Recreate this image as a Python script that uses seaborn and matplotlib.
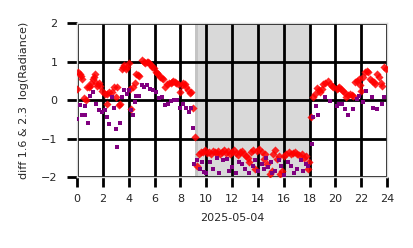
import matplotlib
matplotlib.use("Agg")
import matplotlib.pyplot as plt
import seaborn as sns
import pandas as pd

red_x = [0.0, 0.1, 0.2, 0.3, 0.4, 0.55, 0.7, 0.8, 0.9, 1.0, 1.1, 1.2, 1.3, 1.4, 1.45, 1.55, 1.7, 1.8, 1.95,
         2.15, 2.3, 2.35, 2.5, 2.7, 2.85, 3.0, 3.1, 3.25, 3.3, 3.45, 3.55, 3.65, 3.8, 3.9, 4.0, 4.1, 4.2, 4.35,
         4.5, 4.6, 4.7, 4.8, 5.05, 5.15, 5.25, 5.4, 5.5, 5.6, 5.7, 5.8, 5.95, 6.1, 6.2, 6.3, 6.45, 6.55, 6.65,
         6.8, 6.95, 7.1, 7.25, 7.35, 7.45, 7.55, 7.65, 7.85, 7.95, 8.1, 8.2, 8.35, 8.45, 8.6, 8.75, 8.85, 9.0,
         9.15, 9.3, 9.45, 9.6, 9.75, 9.9, 10.05, 10.2, 10.35, 10.5, 10.65, 10.8, 10.95, 11.1, 11.25, 11.4,
         11.55, 11.7, 11.85, 12.0, 12.15, 12.3, 12.45, 12.6, 12.75, 12.9, 13.05, 13.2, 13.35, 13.5, 13.65,
         13.8, 13.95, 14.1, 14.3, 14.45, 14.55, 14.7, 14.9, 15.1, 15.2, 15.35, 15.5, 15.6, 15.75, 15.9,
         16.05, 16.2, 16.4, 16.55, 16.7, 16.9, 17.05, 17.2, 17.4, 17.55, 17.7, 17.85, 17.95,
         18.1, 18.3, 18.4, 18.55, 18.7, 18.8, 18.95, 19.05, 19.2, 19.4, 19.55, 19.7, 19.85, 20.1, 20.2,
         20.3, 20.45, 20.6, 20.75, 20.85, 21.0, 21.1, 21.25, 21.4, 21.5, 21.65, 21.8, 21.9, 22.0, 22.15,
         22.3, 22.45, 22.55, 22.7, 22.8, 22.95, 23.1, 23.25, 23.35, 23.5, 23.6, 23.75, 23.9]
red_y = [0.28, 0.72, 0.68, 0.63, 0.55, 0.05, 0.0, 0.33, 0.35, 0.37, 0.45, 0.55, 0.6, 0.67, 0.45, 0.37, 0.45, 0.37, 0.24,
         0.15, 0.15, -0.1, 0.2, 0.2, 0.33, 0.07, 0.33, -0.13, -0.1, 0.8, 0.85, 0.9, 0.8, 0.85, 0.95, 0.28, -0.22, 0.33,
         0.45, 0.67, 0.65, 0.62, 1.05, 1.0, 0.95, 1.0, 0.98, 0.97, 0.9, 0.86, 0.82, 0.72, 0.7, 0.67, 0.6, 0.58, 0.55,
         0.33, 0.42, 0.45, 0.45, 0.48, 0.5, 0.47, 0.45, 0.42, 0.2, 0.38, 0.45, 0.42, 0.33, 0.25, 0.18, 0.2, -0.2,
         -0.97, -1.7, -1.4, -1.35, -1.35, -1.3, -1.37, -1.35, -1.4, -1.32, -1.35, -1.38, -1.33, -1.4, -1.35, -1.3,
         -1.37, -1.33, -1.4, -1.35, -1.3, -1.38, -1.42, -1.35, -1.32, -1.4, -1.45, -1.5, -1.6, -1.35, -1.3,
         -1.8, -1.33, -1.27, -1.35, -1.52, -1.4, -1.65, -1.92, -1.85, -1.4, -1.3, -1.52, -1.45, -1.92, -1.85,
         -1.45, -1.4, -1.35, -1.4, -1.38, -1.36, -1.4, -1.42, -1.4, -1.5, -1.45, -1.8, -1.6,
         -0.45, 0.07, 0.15, 0.31, 0.25, 0.2, 0.3, 0.42, 0.45, 0.5, 0.42, 0.37, 0.33, 0.29, 0.31,
         0.33, 0.3, 0.24, 0.18, 0.07, 0.12, 0.16, 0.14, 0.11, 0.46, 0.5, 0.55, 0.4, 0.24, 0.6,
         0.72, 0.76, 0.74, 0.55, 0.5, 0.46, 0.42, 0.68, 0.6, 0.45, 0.37, 0.85, 0.8]

purple_x = [0.0, 0.2, 0.4, 0.6, 0.65, 0.85, 1.0, 1.25, 1.47, 1.73, 1.9, 2.15, 2.35, 2.5, 2.7, 2.9, 3.05, 3.12,
            3.3, 3.45, 3.65, 3.85, 4.05, 4.2, 4.3, 4.5, 4.6, 4.8, 5.0, 5.2, 5.4, 5.65, 5.85, 6.15, 6.35, 6.6,
            6.8, 7.05, 7.3, 7.5, 7.75, 7.95, 8.2, 8.45, 8.65, 8.85, 8.95,
            9.05, 9.3, 9.5, 9.65, 9.8, 10.0, 10.3, 10.5, 10.8, 11.0, 11.3, 11.6, 11.8, 12.0, 12.3, 12.5, 12.8,
            13.0, 13.3, 13.6, 13.8, 14.0, 14.3, 14.5, 14.6, 14.8, 15.0, 15.1, 15.3, 15.6, 15.8, 16.0, 16.3,
            16.6, 16.8, 17.0, 17.3, 17.5, 17.7, 17.9,
            18.15, 18.3, 18.5, 18.65, 19.2, 19.6, 20.1, 20.3, 20.5, 20.75, 21.0, 21.35, 21.65, 21.8, 22.1,
            22.4, 22.8, 22.9, 23.2, 23.6, 23.75]
purple_y = [-0.5, -0.12, -0.4, -0.4, -0.15, -0.6, 0.1, 0.2, -0.1, -0.25, -0.3, -0.27, -0.43, -0.62, 0.07, -0.2, -0.75, -1.23,
            -0.6, 0.07, 0.25, 0.15, 0.25, -0.25, -0.4, -0.05, 0.1, 0.1, 0.4, 0.35, 0.4, 0.3, 0.27, 0.2, 0.05, 0.07,
            -0.12, -0.1, -0.03, 0.0, -0.01, -0.2, -0.1, -0.2, -0.3, -0.2, -0.73,
            -1.65, -1.55, -1.8, -1.6, -1.87, -1.9, -1.6, -1.8, -1.5, -1.9, -1.55, -1.52, -1.85, -1.75, -1.9, -1.6, -1.65,
            -1.8, -1.9, -1.7, -1.55, -1.85, -1.65, -1.8, -1.5, -1.75, -1.6, -1.9, -1.85, -1.55, -1.7, -1.95, -1.6,
            -1.7, -1.9, -1.8, -1.55, -1.85, -1.65, -1.7,
            -1.13, -0.45, -0.15, -0.4, 0.07, -0.02, -0.15, -0.1, -0.1, -0.23, -0.4, -0.23, 0.03, 0.11, -0.06,
            0.24, 0.07, -0.2, -0.23, -0.1, 0.07]

night_start, night_end = 9.1, 18.0
x_ticks = [0, 2, 4, 6, 8, 10, 12, 14, 16, 18, 20, 22, 24]
y_ticks = [-2, -1, 0, 1, 2]

sns.set_theme(style="whitegrid")
plt.rcParams['font.family'] = ['DejaVu Sans']

fig = plt.figure(figsize=(4.14, 2.48), dpi=100)
ax = fig.add_axes([0.186, 0.286, 0.749, 0.621])

ax.axvspan(night_start, night_end, color='#d9d9d9', zorder=0.2, lw=0)
ax.axvspan(night_start, night_start + 0.25, color='#c4c4c4', zorder=0.25, lw=0)

df_r = pd.DataFrame({'hour': red_x, 'val': red_y})
df_p = pd.DataFrame({'hour': purple_x, 'val': purple_y})
sns.scatterplot(data=df_r, x='hour', y='val', ax=ax, color='#ff0000', marker='D', s=17,
                linewidth=0, alpha=0.85, zorder=3)
sns.scatterplot(data=df_p, x='hour', y='val', ax=ax, color='#800080', marker='s', s=11,
                linewidth=0, zorder=4)

ax.set_xlim(0, 24)
ax.set_ylim(-2, 2)
ax.set_xticks(x_ticks)
ax.set_yticks(y_ticks)
ax.grid(True, color='black', linewidth=2)
ax.set_axisbelow(True)
ax.tick_params(axis='both', which='major', length=7, width=2, color='black',
               direction='out', labelsize=8, pad=5, bottom=True, left=True)
ax.tick_params(axis='y', pad=7)
for s in ax.spines.values():
    s.set_visible(True)
    s.set_color('#dddddd')
    s.set_linewidth(1)

ax.set_xlabel('2025-05-04', fontsize=8, labelpad=7)
ax.set_ylabel('diff 1.6 & 2.3  log(Radiance)', fontsize=8, labelpad=9)

fig.savefig('out.png', dpi=100)
